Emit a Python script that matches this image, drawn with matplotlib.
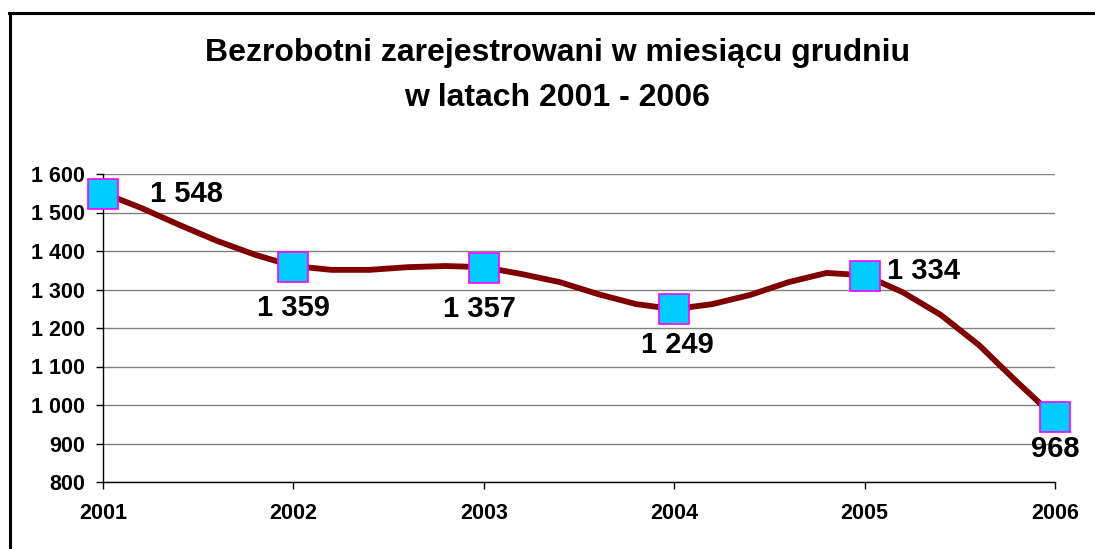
import numpy as np
import matplotlib.pyplot as plt
from matplotlib.lines import Line2D
from matplotlib.ticker import FuncFormatter

plt.rcParams['font.family'] = ['Liberation Sans', 'DejaVu Sans']
plt.rcParams['font.weight'] = 'bold'

# yearly values (December)
years = [2001, 2002, 2003, 2004, 2005, 2006]
values = [1548, 1359, 1357, 1249, 1334, 968]
labels = ['1 548', '1 359', '1 357', '1 249', '1 334', '968']

# smoothed line as drawn in the chart, read every 0.2 year
line_x = [2001.0, 2001.2, 2001.4, 2001.6, 2001.8, 2002.0, 2002.2, 2002.4, 2002.6,
          2002.8, 2003.0, 2003.2, 2003.4, 2003.6, 2003.8, 2004.0, 2004.2, 2004.4,
          2004.6, 2004.8, 2005.0, 2005.2, 2005.4, 2005.6, 2005.8, 2006.0]
line_y = [1551, 1512, 1468, 1426, 1390, 1361, 1351, 1351, 1358, 1361, 1358,
          1340, 1319, 1288, 1262, 1249, 1262, 1286, 1319, 1343, 1337, 1293,
          1234, 1156, 1060, 968]

fig = plt.figure(figsize=(10.95, 5.49), dpi=100)
ax = fig.add_axes([103/1095, 1-482/549, (1055-103)/1095, (482-174)/549])

ax.plot(line_x, line_y, color='#800000', lw=4.2, solid_joinstyle='round',
        solid_capstyle='round', zorder=3)
ax.plot(years, values, ls='none', marker='s', ms=21, mfc='#00CCFF',
        mec='#FF00FF', mew=1.2, zorder=4, clip_on=False)

#data labels: offsets in points
offs = [(34, 0, 'left'), (0, -30, 'center'), (-3, -30, 'center'),
        (2, -26, 'center'), (16, 4, 'left'), (0, -23, 'center')]
for x, v, t, (dx, dy, ha) in zip(years, values, labels, offs):
    ax.annotate(t, (x, v), xytext=(dx, dy), textcoords='offset points',
                ha=ha, va='center', fontsize=21, fontweight='bold', zorder=5)

ax.set_xlim(2001, 2006)
ax.set_ylim(800, 1600)
ax.set_xticks(years)
ax.set_yticks(range(800, 1601, 100))
ax.yaxis.set_major_formatter(FuncFormatter(lambda v, p: f"{v:,.0f}".replace(",", " ")))
ax.tick_params(axis='both', labelsize=15.5, length=5, width=1, direction='out')
ax.tick_params(axis='y', pad=8)
ax.tick_params(axis='x', pad=10)
for lab in ax.get_xticklabels() + ax.get_yticklabels():
    lab.set_fontweight('bold')

ax.grid(axis='y', color='#808080', lw=1)
ax.set_axisbelow(True)
ax.spines['top'].set_visible(False)
ax.spines['right'].set_visible(False)
ax.spines['left'].set_linewidth(1)
ax.spines['bottom'].set_linewidth(1)

fig.text(0.509, 1-53/549, 'Bezrobotni zarejestrowani w miesiącu grudniu',
         ha='center', va='center', fontsize=23, fontweight='bold')
fig.text(0.509, 1-98/549, 'w latach 2001 - 2006',
         ha='center', va='center', fontsize=23, fontweight='bold')

#outer frame (only left and top visible)
fig.add_artist(Line2D([9.5/1095, 9.5/1095], [0, 1-12.5/549], transform=fig.transFigure,
                      color='black', lw=2.2))
fig.add_artist(Line2D([8.5/1095, 1], [1-12.5/549, 1-12.5/549], transform=fig.transFigure,
                      color='black', lw=2.2))

fig.savefig('out.png', dpi=100)
